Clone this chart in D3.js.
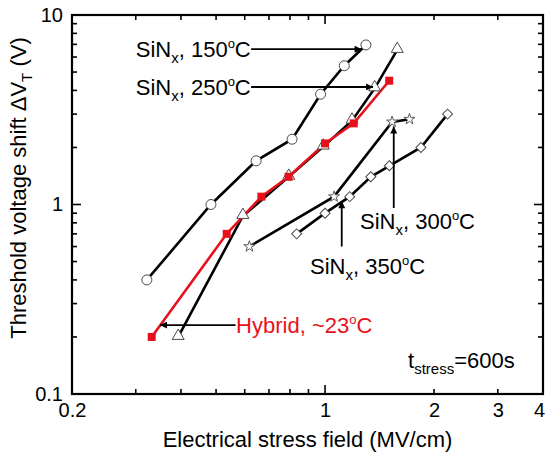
<!DOCTYPE html>
<html>
<head>
<meta charset="utf-8">
<script src="https://cdn.jsdelivr.net/npm/d3@7"></script>
<style>
  body { margin: 0; background: #fff; }
  svg text { font-family: "Liberation Sans", Arial, sans-serif; }
</style>
</head>
<body>
<div id="chart"></div>
<script>
// data: [field MV/cm, dVT V]
const sin150 = [[0.322, 0.40], [0.484, 1.00], [0.645, 1.70], [0.811, 2.21], [0.972, 3.82], [1.13, 5.40], [1.297, 6.95]];
const sin250 = [[0.393, 0.20], [0.593, 0.87], [0.794, 1.40], [0.989, 2.02], [1.187, 2.77], [1.371, 4.10], [1.583, 6.54]];
const hybrid = [[0.332, 0.20], [0.535, 0.70], [0.667, 1.10], [0.793, 1.40], [1.00, 2.10], [1.20, 2.68], [1.504, 4.50]];
const sin300 = [[0.618, 0.60], [1.059, 1.10], [1.532, 2.73], [1.711, 2.82]];
const sin350 = [[0.835, 0.70], [1.00, 0.90], [1.17, 1.10], [1.338, 1.40], [1.506, 1.60], [1.84, 2.00], [2.18, 3.00]];

const xLabelTicks = [0.2, 1, 2, 3, 4];
const xMinorTicks = [0.3, 0.4, 0.5, 0.6, 0.7, 0.8, 0.9, 2, 3];
const xMajorTicks = [1];
const yLabelTicks = [0.1, 1, 10];
const yMinorTicks = [0.2, 0.3, 0.4, 0.5, 0.6, 0.7, 0.8, 0.9, 2, 3, 4, 5, 6, 7, 8, 9];
const yMajorTicks = [1];

const width = 546, height = 457;
const margin = {top: 15, right: 3, bottom: 63, left: 72};

const svg = d3.select("#chart").append("svg")
    .attr("width", width)
    .attr("height", height);

const x = d3.scaleLog().domain([0.2, 4]).range([margin.left, width - margin.right]);
const y = d3.scaleLog().domain([0.1, 10]).range([height - margin.bottom, margin.top]);

const x0 = x.range()[0], x1 = x.range()[1], y0 = y.range()[0], y1 = y.range()[1];

// ticks, all pointing inward on the four sides
const tickG = svg.append("g").attr("stroke", "#000").attr("stroke-width", 1.6);
const xTick = (vals, len) => vals.forEach(v => {
    tickG.append("line").attr("x1", x(v)).attr("x2", x(v)).attr("y1", y0).attr("y2", y0 - len);
    tickG.append("line").attr("x1", x(v)).attr("x2", x(v)).attr("y1", y1).attr("y2", y1 + len);
});
const yTick = (vals, len) => vals.forEach(v => {
    tickG.append("line").attr("y1", y(v)).attr("y2", y(v)).attr("x1", x0).attr("x2", x0 + len);
    tickG.append("line").attr("y1", y(v)).attr("y2", y(v)).attr("x1", x1).attr("x2", x1 - len);
});
xTick(xMinorTicks, 5);
xTick(xMajorTicks, 9);
yTick(yMinorTicks, 5);
yTick(yMajorTicks, 9);

// tick labels via axes with no tick lines
svg.append("g")
    .attr("transform", "translate(0," + y0 + ")")
    .call(d3.axisBottom(x).tickValues(xLabelTicks).tickSize(0).tickPadding(9).tickFormat(d => d))
    .call(g => g.select(".domain").remove())
    .selectAll("text")
        .style("font-size", "20px")
        .attr("fill", "#000")
        .attr("dx", d => d === 4 ? -4 : 0);

svg.append("g")
    .attr("transform", "translate(" + x0 + ",0)")
    .call(d3.axisLeft(y).tickValues(yLabelTicks).tickSize(0).tickPadding(9).tickFormat(d => d))
    .call(g => g.select(".domain").remove())
    .selectAll("text")
        .style("font-size", "20px")
        .attr("fill", "#000");

// frame
svg.append("rect")
    .attr("x", x0).attr("y", y1)
    .attr("width", x1 - x0).attr("height", y0 - y1)
    .attr("fill", "none").attr("stroke", "#000").attr("stroke-width", 2.2);

// axis titles
svg.append("text")
    .attr("x", (x0 + x1) / 2)
    .attr("y", 447)
    .attr("text-anchor", "middle")
    .style("font-size", "22px")
    .text("Electrical stress field (MV/cm)");

const yt = svg.append("text")
    .attr("transform", "translate(26," + 188 + ") rotate(-90)")
    .attr("text-anchor", "middle")
    .style("font-size", "22px");
yt.append("tspan").text("Threshold voltage shift \u0394V");
yt.append("tspan").attr("dy", 6).style("font-size", "15px").text("T");
yt.append("tspan").attr("dy", -6).text(" (V)");

// lines
const line = d3.line().x(d => x(d[0])).y(d => y(d[1]));
const plot = svg.append("g");
[sin150, sin250, sin300, sin350].forEach(s => {
    plot.append("path").datum(s)
        .attr("d", line)
        .attr("fill", "none")
        .attr("stroke", "#000")
        .attr("stroke-width", 2.6);
});
plot.append("path").datum(hybrid)
    .attr("d", line)
    .attr("fill", "none")
    .attr("stroke", "#e8111b")
    .attr("stroke-width", 2.6);

// markers
const markerStroke = "#4a4a4a";
plot.selectAll(".c150").data(sin150).join("circle")
    .attr("cx", d => x(d[0])).attr("cy", d => y(d[1])).attr("r", 5)
    .attr("fill", "#fff").attr("stroke", markerStroke).attr("stroke-width", 1);

const sym = (type, size) => d3.symbol().type(type).size(size);
plot.selectAll(".t250").data(sin250).join("path")
    .attr("transform", d => "translate(" + x(d[0]) + "," + (y(d[1]) - 1) + ")")
    .attr("d", sym(d3.symbolTriangle, 62))
    .attr("fill", "#fff").attr("stroke", markerStroke).attr("stroke-width", 1);

plot.selectAll(".s300").data(sin300).join("path")
    .attr("transform", d => "translate(" + x(d[0]) + "," + y(d[1]) + ")")
    .attr("d", sym(d3.symbolStar, 38))
    .attr("fill", "#fff").attr("stroke", markerStroke).attr("stroke-width", 0.9);

plot.selectAll(".d350").data(sin350).join("path")
    .attr("transform", d => "translate(" + x(d[0]) + "," + y(d[1]) + ") rotate(45)")
    .attr("d", sym(d3.symbolSquare, 50))
    .attr("fill", "#fff").attr("stroke", markerStroke).attr("stroke-width", 1);

plot.selectAll(".hy").data(hybrid).join("path")
    .attr("transform", d => "translate(" + x(d[0]) + "," + y(d[1]) + ")")
    .attr("d", sym(d3.symbolSquare, 64))
    .attr("fill", "#e8111b");

// annotations (anchored in data space)
svg.append("defs").append("marker")
    .attr("id", "arrow")
    .attr("viewBox", "0 0 10 10")
    .attr("refX", 10).attr("refY", 5)
    .attr("markerWidth", 11).attr("markerHeight", 7)
    .attr("markerUnits", "userSpaceOnUse")
    .attr("orient", "auto")
    .append("path").attr("d", "M0,0L10,5L0,10Z").attr("fill", "#000");

const arrows = [
    [[0.625, 6.6], [1.262, 6.6]],
    [[0.625, 4.17], [1.357, 4.17]],
    [[1.548, 0.958], [1.548, 2.58]],
    [[1.112, 0.60], [1.112, 1.04]],
    [[0.566, 0.231], [0.350, 0.231]]
];
arrows.forEach(a => {
    svg.append("line")
        .attr("x1", x(a[0][0])).attr("y1", y(a[0][1]))
        .attr("x2", x(a[1][0])).attr("y2", y(a[1][1]))
        .attr("stroke", "#000").attr("stroke-width", 1.8)
        .attr("marker-end", "url(#arrow)");
});

const labels = [
    {x: 0.300, y: 6.6, color: "#000", parts: [["SiN"], ["x", "sub"], [", 150"], ["o", "sup"], ["C"]]},
    {x: 0.300, y: 4.17, color: "#000", parts: [["SiN"], ["x", "sub"], [", 250"], ["o", "sup"], ["C"]]},
    {x: 1.249, y: 0.818, color: "#000", parts: [["SiN"], ["x", "sub"], [", 300"], ["o", "sup"], ["C"]]},
    {x: 0.909, y: 0.470, color: "#000", parts: [["SiN"], ["x", "sub"], [", 350"], ["o", "sup"], ["C"]]},
    {x: 0.568, y: 0.231, color: "#e8111b", parts: [["Hybrid, ~23"], ["o", "sup"], ["C"]]},
    {x: 1.695, y: 0.151, color: "#000", parts: [["t"], ["stress", "sub"], ["=600s"]]}
];
labels.forEach(l => {
    const t = svg.append("text")
        .attr("x", x(l.x)).attr("y", y(l.y))
        .attr("dy", "0.35em")
        .attr("fill", l.color)
        .style("font-size", "22px");
    let shift = 0;
    l.parts.forEach(p => {
        const ts = t.append("tspan").text(p[0]);
        let target = 0;
        if (p[1] === "sub") { target = 6; ts.style("font-size", "15px"); }
        if (p[1] === "sup") { target = -9; ts.style("font-size", "13px"); }
        if (target !== shift) ts.attr("dy", target - shift);
        shift = target;
    });
});
</script>
</body>
</html>
